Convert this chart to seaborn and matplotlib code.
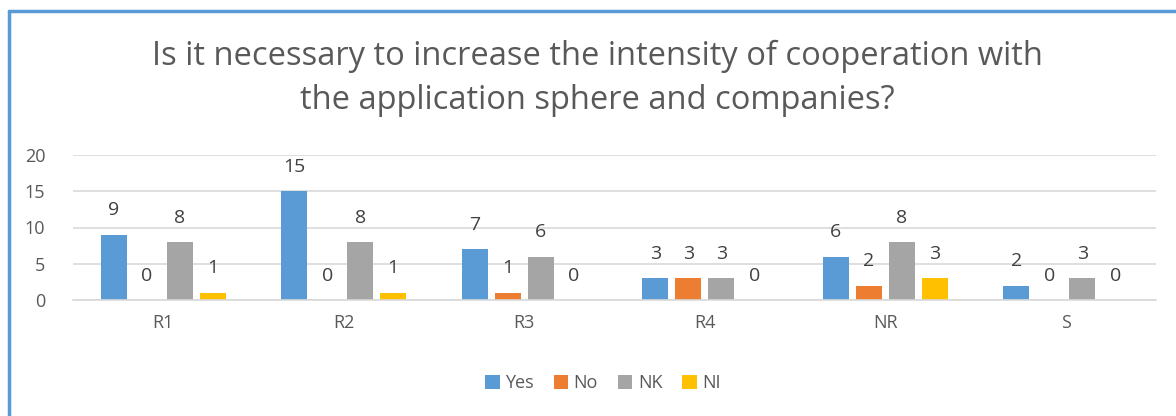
import matplotlib
matplotlib.use("Agg")
import matplotlib.pyplot as plt
from matplotlib.lines import Line2D
import seaborn as sns
import pandas as pd

#%% data

regions = ["R1", "R2", "R3", "R4", "NR", "S"]
answers = ["Yes", "No", "NK", "NI"]
yes_vals = [9, 15, 7, 3, 6, 2]
no_vals = [0, 0, 1, 3, 2, 0]
nk_vals = [8, 8, 6, 3, 8, 3]
ni_vals = [1, 1, 0, 0, 3, 0]
yticks = [0, 5, 10, 15, 20]

colors = ["#5B9BD5", "#ED7D31", "#A5A5A5", "#FFC000"]

df = pd.DataFrame({
    "region": regions * 4,
    "answer": [a for a in answers for _ in regions],
    "count": yes_vals + no_vals + nk_vals + ni_vals,
})

#%% plot

sns.set_style("white")
plt.rcParams['font.family'] = ['Open Sans', 'DejaVu Sans']
text_col = "#595959"

fig = plt.figure(figsize=(11.76, 4.16), dpi=100)
ax = fig.add_axes([73/1176, 1-300/416, 1083/1176, 145/416])

sns.barplot(data=df, x="region", y="count", hue="answer", hue_order=answers,
            palette=colors, width=0.73, gap=0.21, saturation=1,
            linewidth=0, ax=ax, legend=True)

ax.set_ylim(0, 20)
ax.set_xlim(-0.5, 5.5)
ax.set_yticks(yticks)
ax.yaxis.grid(True, color="#D9D9D9", linewidth=1.2)
ax.set_axisbelow(True)
for s in ["left", "right", "top"]:
    ax.spines[s].set_visible(False)
ax.spines["bottom"].set_edgecolor("#D9D9D9")
ax.spines["bottom"].set_linewidth(1.2)
ax.tick_params(axis="both", length=0, labelsize=13, colors=text_col, pad=10)
ax.tick_params(axis="y", pad=20)
ax.set_xlabel("")
ax.set_ylabel("")

#value labels
for c in ax.containers:
    ax.bar_label(c, fmt="%d", padding=11, fontsize=14, color="#404040")

#legend
h, l = ax.get_legend_handles_labels()
ax.legend_.remove()
fig.legend(h, l, loc="center", bbox_to_anchor=(603/1176, 1-383/416), ncol=4,
           frameon=False, fontsize=13, handlelength=0.8, handleheight=0.8,
           handletextpad=0.3, columnspacing=1.1, labelcolor=text_col)

fig.suptitle("Is it necessary to increase the intensity of cooperation with\nthe application sphere and companies?",
             x=0.508, y=1-40/416, fontsize=23.5, color=text_col, linespacing=1.42)

#border of the chart area
fig.add_artist(Line2D([9/1176, 9/1176], [0, 1-11/416], color="#5B9BD5", linewidth=2.5))
fig.add_artist(Line2D([9/1176, 1], [1-11/416, 1-11/416], color="#5B9BD5", linewidth=2.5))

fig.savefig("out.png", dpi=100, facecolor="white")
